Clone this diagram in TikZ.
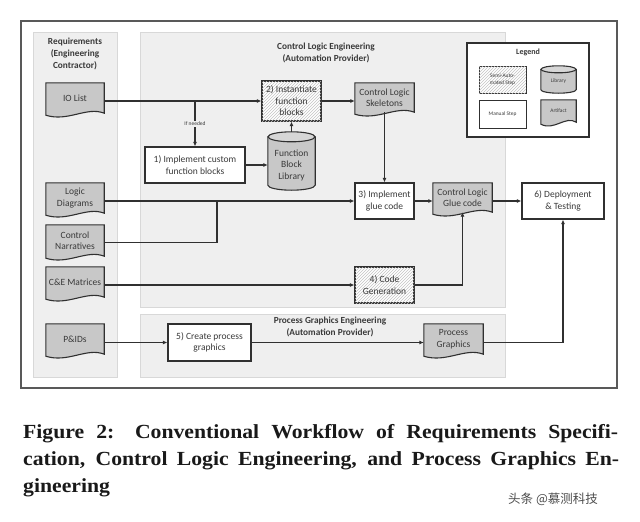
\documentclass[tikz,border=0pt]{standalone}
\usepackage{fontspec}
\setmainfont{Carlito}
\newfontfamily\capfont[FakeStretch=1.085]{Liberation Serif}
\newfontfamily\cjk{Noto Sans CJK SC}
\usetikzlibrary{arrows.meta,calc,patterns}
\definecolor{lanefill}{HTML}{EFEFEF}
\definecolor{lanedraw}{HTML}{D8D8D8}
\definecolor{docfill}{HTML}{C8C8C8}
\definecolor{cyltop}{HTML}{D6D6D6}
\definecolor{ink}{HTML}{303030}
\definecolor{txt}{HTML}{3A3A3A}
\definecolor{hatch}{HTML}{C4C4C4}
\pgfdeclarelayer{bg}\pgfdeclarelayer{mid}
\pgfsetlayers{bg,mid,main}
\newcommand\docshape[1]{%
\begin{pgfonlayer}{mid}
\filldraw[docsty] (#1.north west) -- (#1.north east) -- (#1.south east)
 .. controls ($(#1.south east)!0.3!(#1.south west)+(0,-7)$) and ($(#1.south east)!0.62!(#1.south west)+(0,9)$) .. ($(#1.south west)+(0,2)$) -- cycle;
\end{pgfonlayer}}
\newcommand\cylshape[3]{%
\begin{pgfonlayer}{mid}
\filldraw[docsty] ($(#1.north west)+(0,#3)$) -- ($(#1.south west)+(0,-#3)$)
 .. controls ($(#1.south west)+(0,{-0.45*#3})$) and ($(#1.south)+({-0.55*#2},0)$) .. (#1.south)
 .. controls ($(#1.south)+({0.55*#2},0)$) and ($(#1.south east)+(0,{-0.45*#3})$) .. ($(#1.south east)+(0,-#3)$)
 -- ($(#1.north east)+(0,#3)$) -- cycle;
\filldraw[docsty,fill=cyltop] ($(#1.north)+(0,#3)$) ellipse [x radius=#2, y radius=#3];
\end{pgfonlayer}}
\begin{document}
\begin{tikzpicture}[x=1pt,y=-1pt,
  lane/.style={fill=lanefill,draw=lanedraw,line width=0.8pt},
  docsty/.style={fill=docfill,draw=ink,line width=1.1pt},
  doc/.style={minimum width=58pt,minimum height=30pt,inner sep=0pt,align=center,text=txt,font=\fontsize{9.5}{11.5}\selectfont},
  stepbox/.style={draw=ink,line width=1.2pt,fill=white,inner sep=1pt,align=center,text=txt,font=\fontsize{9.5}{11.5}\selectfont},
  semibox/.style={stepbox,postaction={pattern=north east lines,pattern color=hatch}},
  geo/.style={minimum width=47pt,minimum height=58pt,inner sep=0pt},
  lbl/.style={align=center,text=txt,font=\fontsize{9.5}{11.5}\selectfont},
  ttl/.style={align=center,text=txt,font=\bfseries\fontsize{9.3}{11.8}\selectfont},
  tiny/.style={align=center,text=txt,font=\fontsize{5.4}{6.6}\selectfont},
  arr/.style={draw=ink,line width=1.1pt,-{Latex[length=4.5pt,width=4pt]}},
  ln/.style={draw=ink,line width=1.1pt},
  captxt/.style={anchor=base west,inner sep=0pt,text=black!90,font=\capfont\bfseries\fontsize{20}{27}\selectfont}]
\useasboundingbox (0,0) rectangle (640,522);
\begin{pgfonlayer}{bg}
\fill[white] (0,0) rectangle (640,522);
\draw[draw=black!65,line width=1.2pt,fill=white] (21,21) rectangle (617,388);
\draw[lane] (33,32) rectangle (117,377);
\draw[lane] (140,32) rectangle (505,307);
\draw[lane] (140,314) rectangle (505,377);
\node[draw=ink,line width=1.2pt,fill=white,minimum width=122pt,minimum height=94pt] (legend) at (528,90) {};
\end{pgfonlayer}
% titles
\node[ttl] (treq) at (75,54) {Requirements\\(Engineering\\Contractor)};
\node[ttl] (tcle) at (326,53) {Control Logic Engineering\\(Automation Provider)};
\node[ttl] (tpge) at (330,327) {Process Graphics Engineering\\(Automation Provider)};
% legend
\node[ttl,font=\bfseries\fontsize{8}{9}\selectfont] (legt) at (528,52) {Legend};
\node[semibox,minimum width=47pt,minimum height=27pt,line width=1pt,font=\fontsize{5.4}{6.6}\selectfont] (lsemi) at (502.5,79.5) {Semi-Auto-\\mated Step};
\node[stepbox,minimum width=47pt,minimum height=28pt,line width=1pt,font=\fontsize{5.4}{6.6}\selectfont] (lman) at (502.5,114) {Manual Step};
\node[inner sep=0pt,minimum width=35pt,minimum height=27pt] (llib) at (558.5,79.5) {};
\cylshape{llib}{17.5}{3.5}
\node[tiny] (llibt) at (558.5,81.5) {Library};
\node[doc,minimum width=35pt,minimum height=22pt,font=\fontsize{5.4}{6.6}\selectfont] (lart) at (558.5,111) {Artifact};
\docshape{lart}
% requirement documents
\node[doc] (io) at (75,98) {IO List};
\docshape{io}
\node[doc] (logic) at (75,198) {Logic\\Diagrams};
\docshape{logic}
\node[doc,minimum height=31pt] (narr) at (75,240.5) {Control\\Narratives};
\docshape{narr}
\node[doc] (cem) at (75,282) {C\&E Matrices};
\docshape{cem}
\node[doc] (pid) at (75,339) {P\&IDs};
\docshape{pid}
% control logic engineering
\node[semibox,minimum width=59pt,minimum height=40pt] (b2) at (291.5,101) {2) Instantiate\\function\\blocks};
\node[stepbox,minimum width=100pt,minimum height=36pt] (b1) at (195,165) {1) Implement custom\\function blocks};
\node[geo] (lib) at (291.5,161) {};
\cylshape{lib}{23.5}{5}
\node[lbl] (libt) at (291.5,165) {Function\\Block\\Library};
\node[doc,minimum width=59pt,minimum height=29pt] (skel) at (384.5,97.5) {Control Logic\\Skeletons};
\docshape{skel}
\node[stepbox,minimum width=59pt,minimum height=36pt] (b3) at (384.5,201) {3) Implement\\glue code};
\node[doc,minimum width=59pt,minimum height=29pt] (glue) at (462.5,197.5) {Control Logic\\Glue code};
\docshape{glue}
\node[stepbox,minimum width=82pt,minimum height=36pt] (b6) at (563,201) {6) Deployment\\\& Testing};
\node[semibox,minimum width=59pt,minimum height=36pt] (b4) at (384.5,285) {4) Code\\Generation};
% process graphics engineering
\node[stepbox,minimum width=83pt,minimum height=37pt] (b5) at (209.5,342.5) {5) Create process\\graphics};
\node[doc,minimum width=59pt] (pg) at (453.5,339) {Process\\Graphics};
\docshape{pg}
% connectors
\draw[arr] (io.east |- b2.west) -- (b2.west);
\draw[arr] (b1.north |- b2.west) -- node[pos=0.5,fill=lanefill,inner sep=1pt,font=\fontsize{5.5}{6}\selectfont,text=txt] (ifn) {If needed} (b1.north);
\draw[arr] (b1.east) -- (lib.west |- b1.east);
\draw[arr] (lib.north) -- (b2.south);
\draw[arr] (b2.east) -- (skel.west |- b2.east);
\draw[arr] (skel.south) -- (b3.north);
\draw[arr] (logic.east |- b3.west) -- (b3.west);
\coordinate (j1) at (217,201);
\draw[ln] ($(narr.east)+(0,2)$) -| (j1);
\draw[arr] (b3.east) -- (glue.west |- b3.east);
\draw[arr] (glue.east |- b6.west) -- (b6.west);
\draw[arr] (cem.east |- b4.west) -- (b4.west);
\draw[arr] (b4.east) -| (glue.south);
\draw[arr] (pid.east |- b5.west) -- (b5.west);
\draw[arr] (b5.east) -- (pg.west |- b5.east);
\draw[arr] (pg.east |- b5.east) -| (b6.south);
% caption
\node[captxt] (cap1) at (23,438) {\makebox[595pt][s]{Figure 2: Conventional Workflow of Requirements Specifi-}};
\node[captxt] (cap2) at (23,465) {\makebox[596pt][s]{cation, Control Logic Engineering, and Process Graphics En-}};
\node[captxt] (cap3) at (23,492) {gineering};
\node[anchor=west,inner sep=0pt,text=black!70,font=\cjk\fontsize{12.5}{13}\selectfont] (wm) at (508,499) {头条 @慕测科技};
\end{tikzpicture}
\end{document}
